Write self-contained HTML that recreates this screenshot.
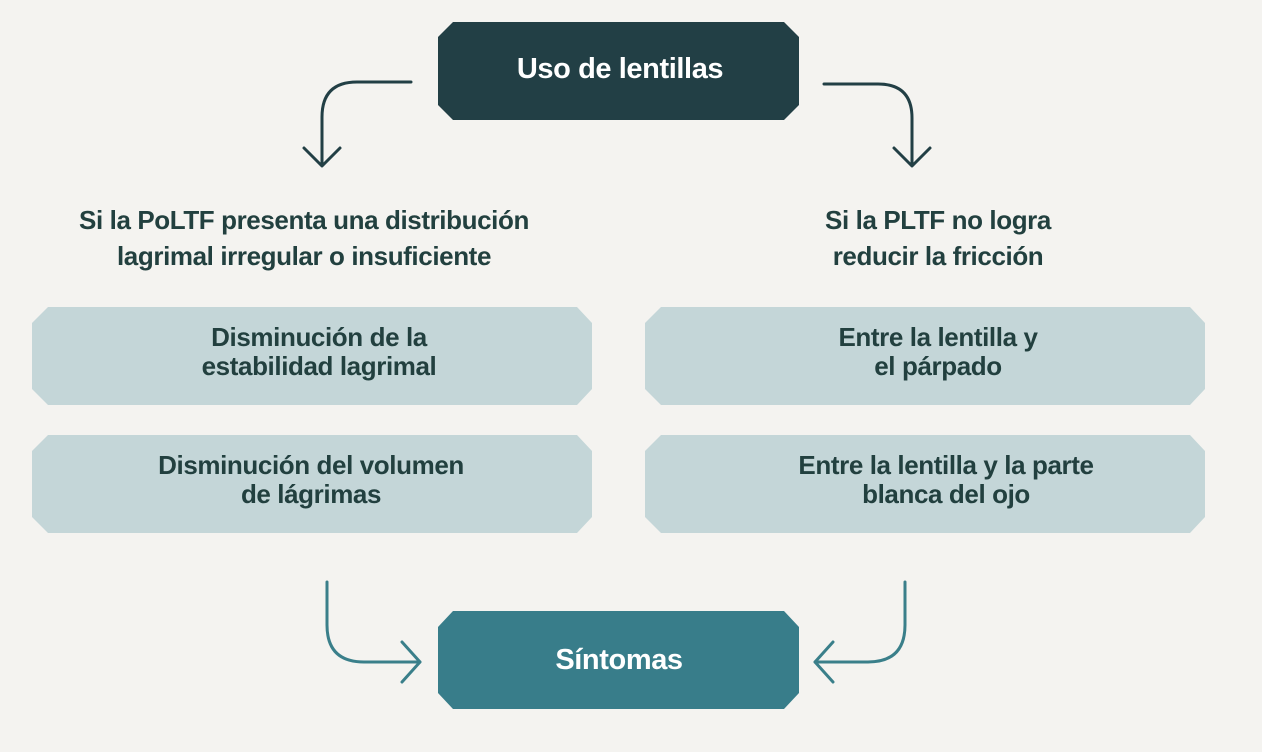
<!DOCTYPE html>
<html><head><meta charset="utf-8"><style>
html,body{margin:0;padding:0;background:#f4f3f0;}
svg{display:block}
text{font-family:"Liberation Sans",Arial,sans-serif;font-weight:bold;text-anchor:middle;letter-spacing:-0.4px}
</style></head><body>
<svg width="1262" height="752" viewBox="0 0 1262 752">
<rect width="1262" height="752" fill="#f4f3f0"/>
<polygon points="453,22 784,22 799,37 799,105 784,120 453,120 438,105 438,37" fill="#223f45"/>
<text x="620" y="78" font-size="29" fill="#fff">Uso de lentillas</text>
<g fill="none" stroke="#223f45" stroke-width="3" stroke-linecap="round" stroke-linejoin="round">
<path d="M411,82 H357 Q322,82 322,117 V165"/>
<path d="M304,148 L322,166 L340,148"/>
<path d="M824,84 H878 Q912,84 912,118 V165"/>
<path d="M894,148 L912,166 L930,148"/>
</g>
<g font-size="26" fill="#22403f">
<text x="304" y="229">Si la PoLTF presenta una distribución</text>
<text x="304" y="265">lagrimal irregular o insuficiente</text>
<text x="938" y="229">Si la PLTF no logra</text>
<text x="938" y="265">reducir la fricción</text>
</g>
<g fill="#c4d6d8">
<polygon points="48,307 577,307 592,323 592,389 577,405 48,405 32,389 32,323"/>
<polygon points="48,435 577,435 592,451 592,517 577,533 48,533 32,517 32,451"/>
<polygon points="661,307 1190,307 1205,323 1205,389 1190,405 661,405 645,389 645,323"/>
<polygon points="661,435 1190,435 1205,451 1205,517 1190,533 661,533 645,517 645,451"/>
</g>
<g font-size="26" fill="#22403f">
<text x="319" y="346">Disminución de la</text>
<text x="319" y="375">estabilidad lagrimal</text>
<text x="311" y="474">Disminución del volumen</text>
<text x="311" y="503">de lágrimas</text>
<text x="938" y="346">Entre la lentilla y</text>
<text x="938" y="375">el párpado</text>
<text x="946" y="474">Entre la lentilla y la parte</text>
<text x="946" y="503">blanca del ojo</text>
</g>
<g fill="none" stroke="#3a7f8a" stroke-width="3" stroke-linecap="round" stroke-linejoin="round">
<path d="M327,582 V625 Q327,662 364,662 H420"/>
<path d="M402,642 L420,662 L402,682"/>
<path d="M905,582 V625 Q905,662 868,662 H815"/>
<path d="M833,642 L815,662 L833,682"/>
</g>
<polygon points="453,611 784,611 799,627 799,693 784,709 453,709 438,693 438,627" fill="#387d8a"/>
<text x="619" y="669" font-size="29" fill="#fff">Síntomas</text>
</svg>
</body></html>
